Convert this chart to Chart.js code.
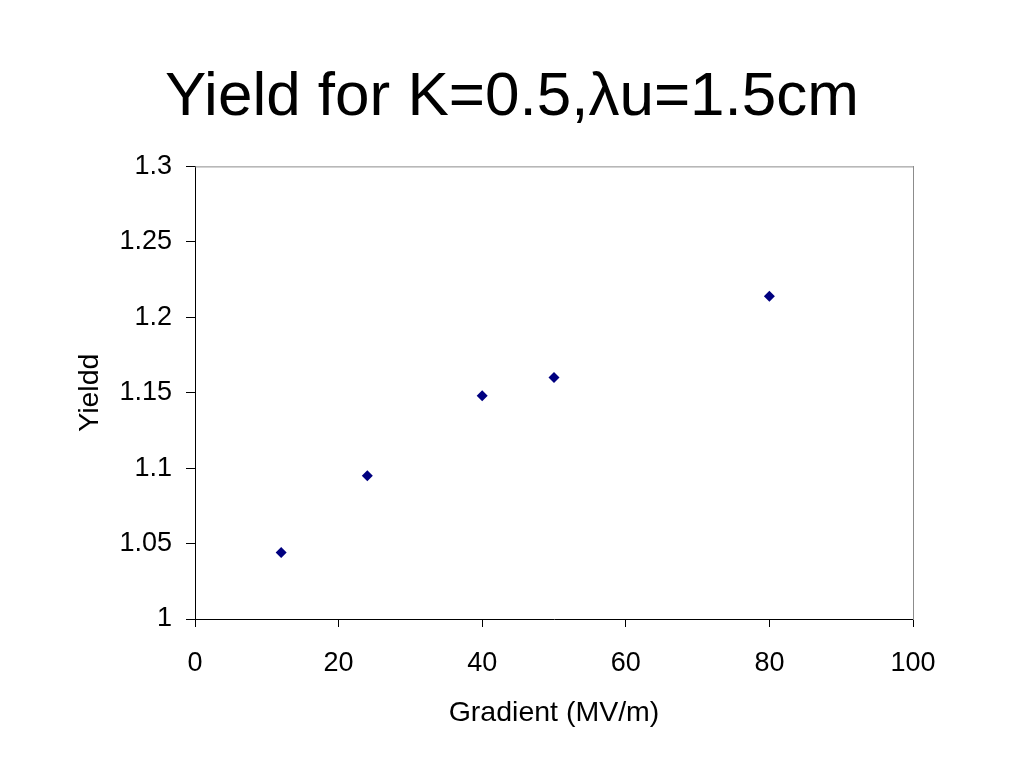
<!DOCTYPE html>
<html>
<head>
<meta charset="utf-8">
<title>Yield for K=0.5, λu=1.5cm</title>
<script src="https://cdn.jsdelivr.net/npm/chart.js@4/dist/chart.umd.min.js"></script>
<style>
  html, body { margin: 0; padding: 0; background: #fff; }
  #wrap { width: 1024px; height: 768px; }
</style>
</head>
<body>
<div id="wrap"><canvas id="yieldChart" width="1024" height="768"></canvas></div>
<script>
// data
const gradient = [12, 24, 40, 50, 80];
const yieldValues = [1.044, 1.095, 1.148, 1.16, 1.214];
const xTicks = [0, 20, 40, 60, 80, 100];
const yTicks = [1, 1.05, 1.1, 1.15, 1.2, 1.25, 1.3];

const FONT = "'Liberation Sans', Arial, sans-serif";

// grey line along the top of the plot area
const framePlugin = {
  id: "frame",
  afterDraw(chart) {
    const { ctx, chartArea } = chart;
    ctx.save();
    ctx.strokeStyle = "#8c8c8c";
    ctx.lineWidth = 1;
    ctx.beginPath();
    ctx.moveTo(chartArea.left, chartArea.top + 0.5);
    ctx.lineTo(chartArea.right, chartArea.top + 0.5);
    ctx.stroke();
    ctx.restore();
  },
};

const points = gradient.map((g, i) => ({ x: g, y: yieldValues[i] }));

new Chart(document.getElementById("yieldChart"), {
  type: "scatter",
  data: {
    datasets: [
      {
        data: points,
        pointStyle: "rectRot",
        pointRadius: 5.5,
        backgroundColor: "#000080",
        borderColor: "#000080",
        borderWidth: 0,
      },
    ],
  },
  options: {
    responsive: false,
    animation: false,
    layout: { padding: 0 },
    plugins: {
      legend: { display: false },
      tooltip: { enabled: false },
      title: {
        display: true,
        text: "Yield for K=0.5,λu=1.5cm",
        color: "#000",
        font: { family: FONT, size: 62, weight: "normal", lineHeight: 1.2 },
        padding: { top: 61, bottom: 31 },
      },
    },
    scales: {
      x: {
        type: "linear",
        min: 0,
        max: 100,
        afterBuildTicks: (scale) => {
          scale.ticks = xTicks.map((v) => ({ value: v }));
        },
        afterFit: (scale) => {
          scale.height = 149;
        },
        ticks: {
          color: "#000",
          font: { family: FONT, size: 27 },
          padding: 20,
          maxRotation: 0,
        },
        grid: {
          drawOnChartArea: false,
          drawTicks: true,
          tickLength: 8,
          color: "#000",
        },
        border: { color: "#000", width: 1 },
        title: {
          display: true,
          text: "Gradient (MV/m)",
          color: "#000",
          font: { family: FONT, size: 28.5 },
          padding: { top: 0, bottom: 38 },
        },
      },
      y: {
        type: "linear",
        min: 1,
        max: 1.3,
        afterBuildTicks: (scale) => {
          scale.ticks = yTicks.map((v) => ({ value: v }));
        },
        afterFit: (scale) => {
          scale.width = 195;
        },
        ticks: {
          color: "#000",
          font: { family: FONT, size: 27 },
          padding: 14,
          callback: (v) => String(Math.round(v * 100) / 100),
        },
        grid: {
          drawOnChartArea: false,
          drawTicks: true,
          tickLength: 9,
          color: "#000",
        },
        border: { color: "#000", width: 1 },
        title: {
          display: true,
          text: "Yieldd",
          color: "#000",
          font: { family: FONT, size: 28.5 },
          padding: { top: 73, bottom: 0 },
        },
      },
      // empty right axis: reserves the right margin and draws the grey right edge
      yRight: {
        type: "linear",
        position: "right",
        min: 1,
        max: 1.3,
        afterFit: (scale) => {
          scale.width = 111;
        },
        ticks: { display: false },
        grid: { drawOnChartArea: false, drawTicks: false },
        border: { color: "#8c8c8c", width: 1 },
      },
    },
  },
  plugins: [framePlugin],
});
</script>
</body>
</html>
